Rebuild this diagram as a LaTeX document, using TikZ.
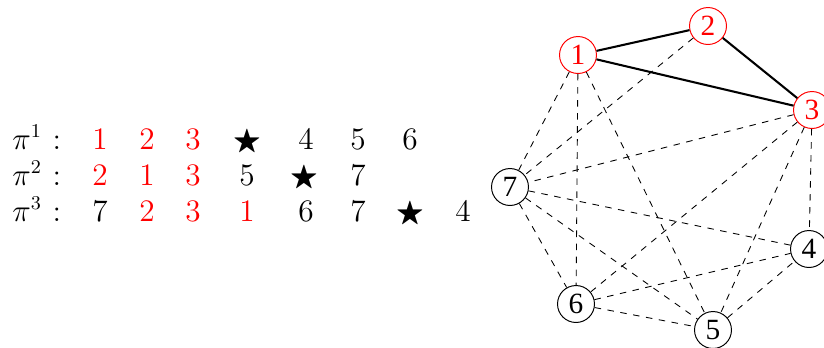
\documentclass[tikz,border=0pt]{standalone}
\usepackage{amssymb}
\usepackage{fontspec}
\newfontfamily\nodefont{Liberation Serif}
\begin{document}
\begin{tikzpicture}[x=0.46pt,y=-0.46pt,
  vtx/.style={circle,draw,line width=0.45pt,minimum size=17pt,inner sep=0pt,font=\nodefont\fontsize{13.5}{13.5}\selectfont},
  hot/.style={vtx,draw=red,text=red},
  sol/.style={line width=0.95pt},
  dsh/.style={dashed,line width=0.4pt},
  tok/.style={anchor=base,inner sep=0pt,font=\fontsize{13.5}{15}\selectfont},
  rd/.style={tok,text=red}]
\useasboundingbox (0,0) rectangle (824,347);
% graph
\node[hot] (n1) at (578,55) {1};
\node[hot] (n2) at (708,26) {2};
\node[hot] (n3) at (812,110) {3};
\node[vtx] (n4) at (809,249) {4};
\node[vtx] (n5) at (713,330) {5};
\node[vtx] (n6) at (576,304) {6};
\node[vtx] (n7) at (510,187) {7};
\draw[sol] (n1) -- (n2);
\draw[sol] (n2) -- (n3);
\draw[sol] (n1) -- (n3);
\foreach \a/\b in {n1/n7,n1/n6,n1/n5,n2/n7,n3/n7,n3/n6,n3/n5,n3/n4,n7/n4,n7/n5,n7/n6,n6/n4,n6/n5,n5/n4}
  \draw[dsh] (\a) -- (\b);
% rows
\node[tok,anchor=base west] (p1) at (12,149) {$\pi^1$};
\node[tok] (c1) at (57,149) {$:$};
\node[rd] (a11) at (100,149) {$1$};
\node[rd] (a12) at (147,149) {$2$};
\node[rd] (a13) at (193,149) {$3$};
\node[tok] (a14) at (247,149) {$\bigstar$};
\node[tok] (a15) at (306,149) {$4$};
\node[tok] (a16) at (358,149) {$5$};
\node[tok] (a17) at (410,149) {$6$};
\node[tok,anchor=base west] (p2) at (12,185) {$\pi^2$};
\node[tok] (c2) at (57,185) {$:$};
\node[rd] (a21) at (100,185) {$2$};
\node[rd] (a22) at (147,185) {$1$};
\node[rd] (a23) at (193,185) {$3$};
\node[tok] (a24) at (247,185) {$5$};
\node[tok] (a25) at (304,185) {$\bigstar$};
\node[tok] (a26) at (358,185) {$7$};
\node[tok,anchor=base west] (p3) at (12,221) {$\pi^3$};
\node[tok] (c3) at (57,221) {$:$};
\node[tok] (a31) at (100,221) {$7$};
\node[rd] (a32) at (147,221) {$2$};
\node[rd] (a33) at (193,221) {$3$};
\node[rd] (a34) at (247,221) {$1$};
\node[tok] (a35) at (306,221) {$6$};
\node[tok] (a36) at (358,221) {$7$};
\node[tok] (a37) at (410,221) {$\bigstar$};
\node[tok] (a38) at (463,221) {$4$};
\end{tikzpicture}
\end{document}
